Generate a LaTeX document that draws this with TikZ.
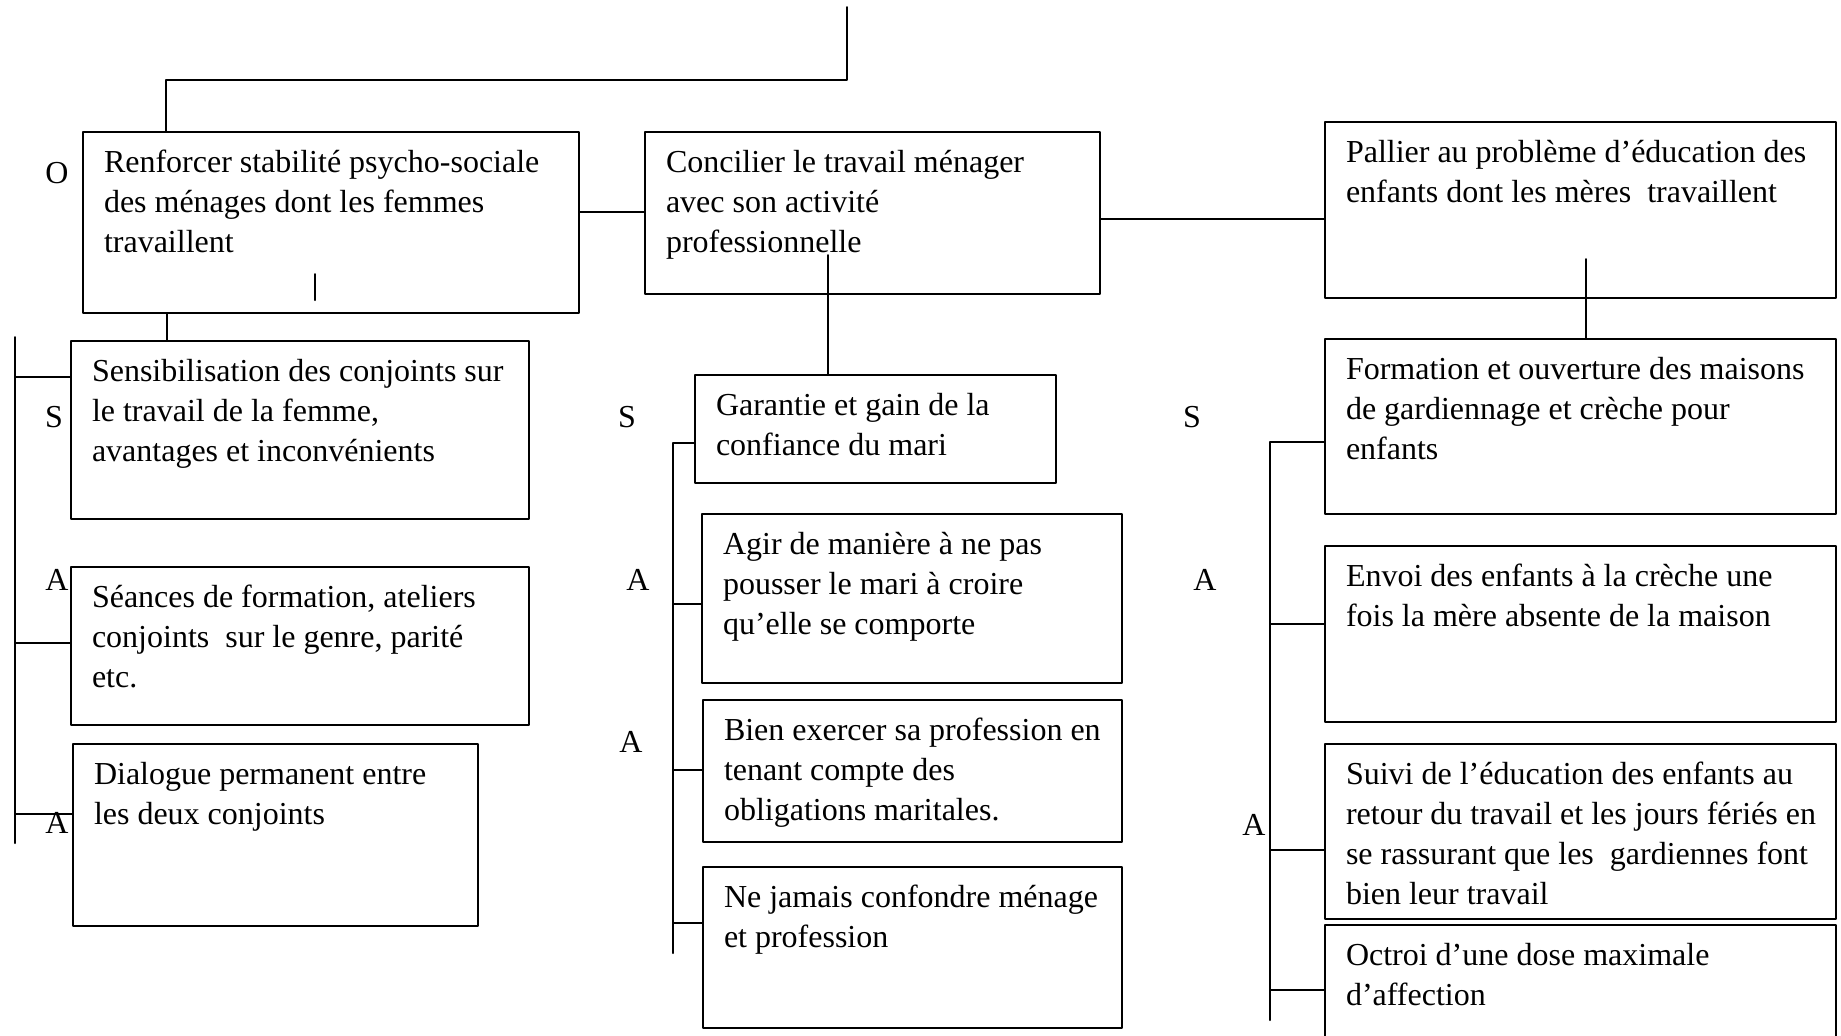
\documentclass[tikz,border=0pt]{standalone}
\usepackage{fontspec}
\setmainfont{Liberation Serif}
\begin{document}
\begin{tikzpicture}[line cap=round,line join=round,x=0.5pt,y=-0.5pt,line width=1pt,
  font=\fontsize{16pt}{20pt}\selectfont,
  boite/.style 2 args={draw,anchor=north west,inner xsep=0pt,inner ysep=0pt,
    text width=#1,text height=20pt,text depth=#2,align=flush left,
    execute at begin node={\leftskip=10.5pt}},
  lettre/.style={inner sep=0pt}]
\clip (0,0) rectangle (1841,1035);
\node[boite={248pt}{70.5pt}] (obj1) at (82,131) {Renforcer stabilité psycho-sociale\\des ménages dont les femmes\\travaillent};
\node[boite={227.5pt}{61pt}] (obj2) at (644,131) {Concilier le travail ménager\\avec son activité\\professionnelle};
\node[boite={255.5pt}{68pt}] (obj3) at (1324,121) {Pallier au problème d’éducation des\\enfants dont les mères~ travaillent};
\node[boite={229pt}{69pt}] (str1) at (70,340) {Sensibilisation des conjoints sur\\le travail de la femme,\\avantages et inconvénients};
\node[boite={229pt}{59pt}] (ag1) at (70,566) {Séances de formation, ateliers\\conjoints~ sur le genre, parité\\etc.};
\node[boite={202.5pt}{71pt}] (ag2) at (72,743) {Dialogue permanent entre\\les deux conjoints};
\node[boite={180.5pt}{34pt}] (str2) at (694,374) {Garantie et gain de la\\confiance du mari};
\node[boite={210pt}{64.5pt}] (am1) at (701,513) {Agir de manière à ne pas\\pousser le mari à croire\\qu’elle se comporte};
\node[boite={209.5pt}{51pt}] (am2) at (702,699) {Bien exercer sa profession en\\tenant compte des\\obligations maritales.};
\node[boite={209.5pt}{60.5pt}] (am3) at (702,866) {Ne jamais confondre ménage\\et profession};
\node[boite={255.5pt}{67.5pt}] (str3) at (1324,338) {Formation et ouverture des maisons\\de gardiennage et crèche pour\\enfants};
\node[boite={255.5pt}{68pt}] (ad1) at (1324,545) {Envoi des enfants à la crèche une\\fois la mère absente de la maison};
\node[boite={255.5pt}{67.5pt}] (ad2) at (1324,743) {Suivi de l’éducation des enfants au\\retour du travail et les jours fériés en\\se rassurant que les~ gardiennes font\\bien leur travail};
\node[boite={255.5pt}{40pt}] (ad3) at (1324,924) {Octroi d’une dose maximale\\d’affection};
\node[lettre] (o1) at (57,173) {O};
\node[lettre] (s1) at (54,417) {S};
\node[lettre] (s2) at (627,417) {S};
\node[lettre] (s3) at (1192,417) {S};
\node[lettre] (lg1) at (57,580) {A};
\node[lettre] (lg2) at (57,823) {A};
\node[lettre] (lm1) at (638,580) {A};
\node[lettre] (lm2) at (631,742) {A};
\node[lettre] (ld1) at (1205,580) {A};
\node[lettre] (ld2) at (1254,825) {A};
\coordinate (haut) at (847,7);
\coordinate (coude) at (166,80);
\draw (haut) |- (coude) -- (coude |- obj1.north);
\draw (315,274) -- (315,300);
\draw (obj1.east |- 0,212) -- (obj2.west |- 0,212);
\draw (obj2.east |- 0,219) -- (obj3.west |- 0,219);
\draw (obj1.south -| 167,0) -- (str1.north -| 167,0);
\coordinate (c2) at (828,255);
\draw (c2) -- (c2 |- str2.north);
\coordinate (c3) at (1586,259);
\draw (c3) -- (c3 |- str3.north);
\coordinate (gs) at (15,337);
\coordinate (gi) at (15,843);
\draw (gs) -- (gi);
\draw (gs |- 0,377) -- (str1.west |- 0,377);
\draw (gs |- 0,643) -- (ag1.west |- 0,643);
\draw (gs |- 0,814) -- (ag2.west |- 0,814);
\coordinate (ms) at (673,443);
\coordinate (mi) at (673,953);
\draw (str2.west |- ms) -- (ms) -- (mi);
\draw (ms |- 0,604) -- (am1.west |- 0,604);
\draw (ms |- 0,770) -- (am2.west |- 0,770);
\draw (ms |- 0,923) -- (am3.west |- 0,923);
\coordinate (ds) at (1270,442);
\coordinate (di) at (1270,1020);
\draw (str3.west |- ds) -- (ds) -- (di);
\draw (ds |- 0,624) -- (ad1.west |- 0,624);
\draw (ds |- 0,850) -- (ad2.west |- 0,850);
\draw (ds |- 0,990) -- (ad3.west |- 0,990);
\end{tikzpicture}
\end{document}
